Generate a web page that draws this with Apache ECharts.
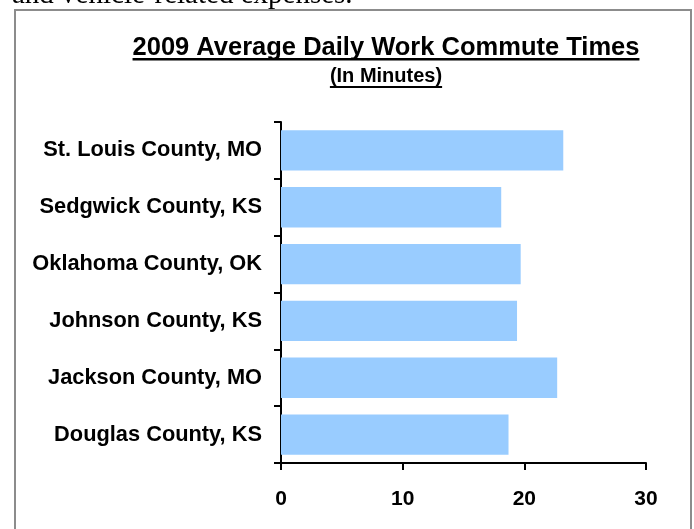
<!DOCTYPE html>
<html>
<head>
<meta charset="utf-8">
<script src="https://cdn.jsdelivr.net/npm/echarts@6/dist/echarts.min.js"></script>
<style>
  html, body { margin: 0; padding: 0; background: #fff; }
  #chart { width: 694px; height: 529px; }
</style>
</head>
<body>
<div id="chart"></div>
<script>
// --- data ---
const counties = [
    'St. Louis County, MO',
    'Sedgwick County, KS',
    'Oklahoma County, OK',
    'Johnson County, KS',
    'Jackson County, MO',
    'Douglas County, KS'
];
const commuteMinutes = [23.2, 18.1, 19.7, 19.4, 22.7, 18.7];
const xTicks = [0, 10, 20, 30];

const titleText = '2009 Average Daily Work Commute Times';
const subTitleText = '(In Minutes)';
const FONT = '"Liberation Sans", Arial, sans-serif';

// measure text so the underline matches the title width
function textWidth(str, size) {
    const ctx = document.createElement('canvas').getContext('2d');
    ctx.font = 'bold ' + size + 'px ' + FONT;
    return ctx.measureText(str).width;
}

const chart = echarts.init(document.getElementById('chart'));

const titleSize = 25.5, subSize = 20;
const cx = 386;
const tw = textWidth(titleText, titleSize);
const sw = textWidth(subTitleText, subSize);

chart.setOption({
    animation: false,
    backgroundColor: '#fff',
    graphic: [
        // text of the page above the chart frame (cut off)
        {
            type: 'text', left: 12, top: -19,
            style: { text: 'and vehicle-related expenses.', font: '29px "Liberation Serif", "Times New Roman", serif', fill: '#000' }
        },
        // frame
        {
            type: 'rect',
            shape: { x: 15, y: 10, width: 676, height: 540 },
            style: { fill: '#fff', stroke: '#8c8c8c', lineWidth: 2 },
            z: -1
        },
        {
            type: 'text', x: cx, y: 48,
            style: { text: titleText, font: 'bold ' + titleSize + 'px ' + FONT, fill: '#000', align: 'center', verticalAlign: 'middle' }
        },
        {
            type: 'rect',
            shape: { x: cx - tw / 2, y: 58, width: tw, height: 2.5 },
            style: { fill: '#000' }
        },
        {
            type: 'text', x: cx, y: 76,
            style: { text: subTitleText, font: 'bold ' + subSize + 'px ' + FONT, fill: '#000', align: 'center', verticalAlign: 'middle' }
        },
        {
            type: 'rect',
            shape: { x: cx - sw / 2, y: 86, width: sw, height: 2 },
            style: { fill: '#000' }
        }
    ],
    grid: { left: 281, right: 48, top: 122, bottom: 66 },
    xAxis: {
        type: 'value',
        min: xTicks[0],
        max: xTicks[xTicks.length - 1],
        interval: 10,
        axisLine: { show: true, lineStyle: { color: '#000', width: 2 } },
        axisTick: { show: true, length: 7, lineStyle: { color: '#000', width: 2 } },
        axisLabel: { color: '#000', fontFamily: FONT, fontWeight: 'bold', fontSize: 21, margin: 26 },
        splitLine: { show: false }
    },
    yAxis: {
        type: 'category',
        data: counties,
        inverse: true,
        axisLine: { show: true, lineStyle: { color: '#000', width: 2 } },
        axisTick: { show: true, length: 7, lineStyle: { color: '#000', width: 2 } },
        axisLabel: { color: '#000', fontFamily: FONT, fontWeight: 'bold', fontSize: 21.8, margin: 19 }
    },
    series: [{
        type: 'bar',
        data: commuteMinutes,
        barCategoryGap: '29%',
        itemStyle: { color: '#99ccff' }
    }]
});
</script>
</body>
</html>
